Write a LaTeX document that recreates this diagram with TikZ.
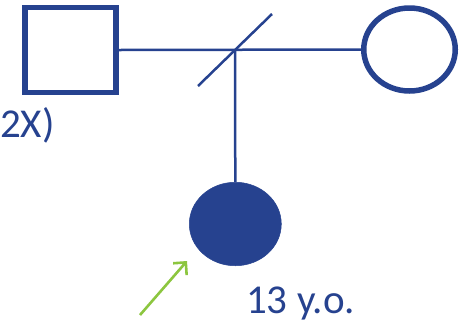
\documentclass[tikz,border=0pt]{standalone}
\usepackage{fontspec}
\setmainfont{Carlito}
\usetikzlibrary{shapes.geometric,arrows.meta}
\definecolor{pblue}{RGB}{38,66,143}
\definecolor{pgreen}{RGB}{140,198,63}
\tikzset{
  male/.style={draw=pblue,line width=5.5bp,rectangle,minimum width=91bp,minimum height=85bp,inner sep=0pt},
  female/.style={draw=pblue,line width=5.5bp,ellipse,minimum width=91.5bp,minimum height=83bp,inner sep=0pt},
  affected/.style={fill=pblue,draw=pblue,line width=0.5bp,ellipse,minimum width=92bp,minimum height=83.5bp,inner sep=0pt},
  link/.style={draw=pblue,line width=2.5bp},
  lbl/.style={text=pblue,inner sep=0pt,anchor=base west,font=\fontsize{41bp}{43bp}\selectfont},
  proband/.style={draw=pgreen,line width=2.6bp,-{Straight Barb[length=9bp,width=18bp,line width=2.6bp]}}
}
\begin{document}
\begin{tikzpicture}[x=1bp,y=-1bp]
\useasboundingbox (0,0) rectangle (462,324);
\node[male] (father) at (70.5,50) {};
\node[female] (mother) at (409.5,49.5) {};
\coordinate (mid) at (235,50);
\coordinate (s1) at (198,86);
\coordinate (s2) at (272,14);
\node[affected] (child) at (235.3,224) {};
\draw[link] (father.east) -- (mother.west);
\draw[link] (s1) -- (s2);
\draw[link] (mid) -- (child.north);
\coordinate (atail) at (140,315);
\coordinate (ahead) at (187,261);
\draw[proband] (atail) -- (ahead);
\node[lbl] (age) at (246,313.3) {13 y.o.};
\node[lbl] (note) at (0,137.7) {2X)};
\end{tikzpicture}
\end{document}
